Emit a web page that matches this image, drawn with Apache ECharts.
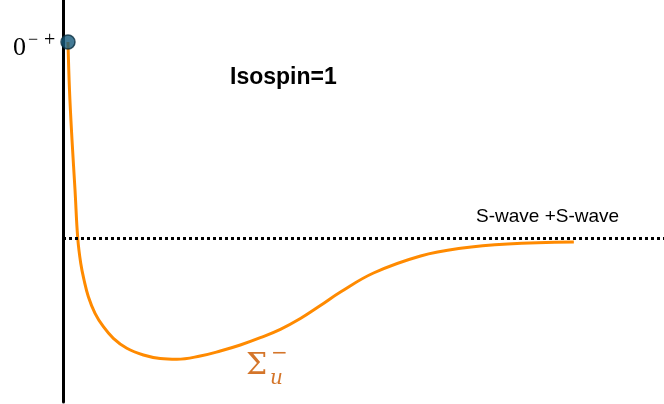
<!DOCTYPE html>
<html>
<head>
<meta charset="utf-8">
<script src="https://cdn.jsdelivr.net/npm/echarts@6/dist/echarts.min.js"></script>
<style>
  html, body { margin: 0; padding: 0; background: #fff; }
  #chart { width: 664px; height: 404px; }
</style>
</head>
<body>
<div id="chart"></div>
<script>
// separation (arb. units) and potential energy relative to the S-wave + S-wave threshold
var separation = [0.083, 0.108, 0.15, 0.2, 0.245, 0.295, 0.35, 0.422, 0.533, 0.672, 0.838, 1.062, 1.338, 1.617, 1.895, 2.283, 2.617, 2.95, 3.283, 3.617, 3.95, 4.283, 4.617, 5.167, 5.95, 6.617, 7.4, 8.5]
var energy = [1.96, 1.48, 0.98, 0.48, 0.0, -0.253, -0.42, -0.587, -0.753, -0.887, -1.003, -1.103, -1.17, -1.205, -1.213, -1.18, -1.13, -1.07, -0.997, -0.913, -0.805, -0.675, -0.54, -0.35, -0.18, -0.103, -0.06, -0.04]
var statePoint = [0.083, 1.96]
var threshold = 0

var COLORS = {
  curve: '#FF8A00',
  dot: '#155A7C',
  sigma: '#D4752A',
  axis: '#000'
}

var chart = echarts.init(document.getElementById('chart'))

var option = {
  animation: false,
  grid: { left: 63, right: 0, top: 0, bottom: 2 },
  xAxis: {
    type: 'value',
    min: 0,
    max: 10,
    axisLine: { show: false },
    axisTick: { show: false },
    axisLabel: { show: false },
    splitLine: { show: false }
  },
  yAxis: {
    type: 'value',
    min: -1.64,
    max: 2.38,
    axisLine: { show: true, lineStyle: { color: COLORS.axis, width: 3 } },
    axisTick: { show: false },
    axisLabel: { show: false },
    splitLine: { show: false }
  },
  series: [
    {
      name: 'potential',
      type: 'line',
      smooth: 0.4,
      showSymbol: false,
      data: separation.map(function (x, i) { return [x, energy[i]] }),
      lineStyle: { color: COLORS.curve, width: 3 },
      markLine: {
        silent: true,
        symbol: 'none',
        label: { show: false },
        lineStyle: { color: COLORS.axis, width: 3, type: [3, 3] },
        data: [{ yAxis: threshold }]
      },
      z: 2
    },
    {
      name: 'state',
      type: 'scatter',
      data: [statePoint],
      symbolSize: 14,
      itemStyle: { color: COLORS.dot, borderColor: '#0A2E40', borderWidth: 1.5 },
      z: 3
    }
  ],
  graphic: [
    { type: 'text', left: 13, top: 35, style: { text: '0', fontSize: 26, fontFamily: 'Liberation Serif', fill: '#000' } },
    { type: 'text', left: 28, top: 31, style: { text: '\u2212', fontSize: 18, fontFamily: 'Liberation Serif', fill: '#000' } },
    { type: 'text', left: 44, top: 31, style: { text: '+', fontSize: 20, fontFamily: 'Liberation Serif', fill: '#000' } },
    { type: 'text', left: 230, top: 66, style: { text: 'Isospin=1', fontSize: 23, fontWeight: 'bold', fontFamily: 'Liberation Sans', fill: '#000' } },
    { type: 'text', left: 476, top: 207, style: { text: 'S-wave +S-wave', fontSize: 19, fontFamily: 'Liberation Sans', fill: '#000' } },
    { type: 'text', left: 246, top: 351, style: { text: '\u03A3', fontSize: 30, fontFamily: 'DejaVu Serif', fill: COLORS.sigma } },
    { type: 'text', left: 270, top: 369, style: { text: 'u', fontSize: 20, fontStyle: 'italic', fontFamily: 'DejaVu Serif', fill: COLORS.sigma } },
    { type: 'text', left: 271, top: 344, style: { text: '\u2212', fontSize: 20, fontFamily: 'DejaVu Serif', fill: COLORS.sigma } }
  ]
}

chart.setOption(option)
</script>
</body>
</html>
